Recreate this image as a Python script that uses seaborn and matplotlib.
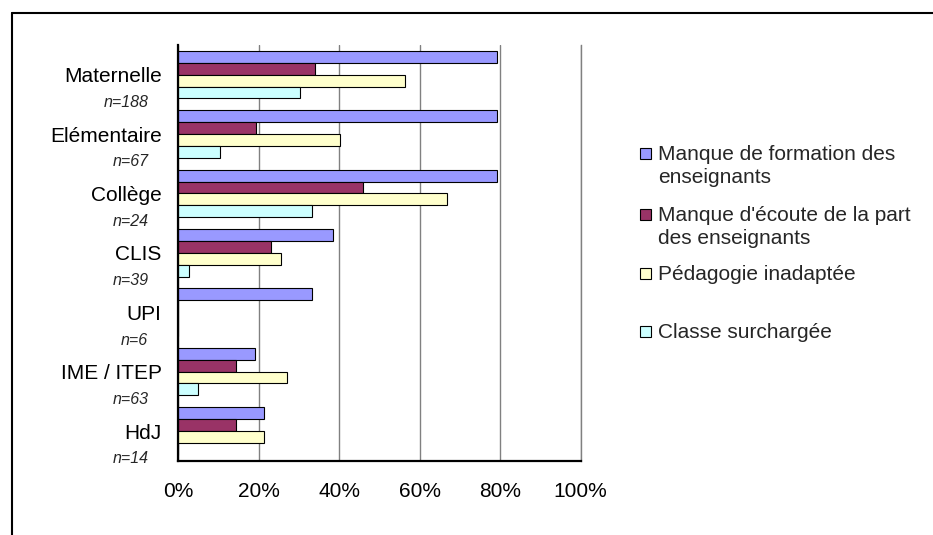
import pandas as pd
import seaborn as sns
import matplotlib.pyplot as plt
from matplotlib.patches import Rectangle
from matplotlib.lines import Line2D

# Données (pourcentages par type de scolarisation)
categories = ["Maternelle", "Elémentaire", "Collège", "CLIS", "UPI", "IME / ITEP", "HdJ"]
effectifs = [188, 67, 24, 39, 6, 63, 14]
series = ["Manque de formation des\nenseignants",
          "Manque d'écoute de la part\ndes enseignants",
          "Pédagogie inadaptée",
          "Classe surchargée"]
formation = [79.3, 79.1, 79.2, 38.5, 33.3, 19.0, 21.4]
ecoute = [34.0, 19.4, 45.8, 23.1, 0.0, 14.3, 14.3]
pedagogie = [56.4, 40.3, 66.7, 25.6, 0.0, 27.0, 21.4]
surcharge = [30.3, 10.4, 33.3, 2.6, 0.0, 4.8, 0.0]
colors = ["#9999FF", "#993366", "#FFFFCC", "#CCFFFF"]
xticks = [0, 20, 40, 60, 80, 100]

rows = []
for name, vals in zip(series, [formation, ecoute, pedagogie, surcharge]):
    for cat, v in zip(categories, vals):
        rows.append({"categorie": cat, "motif": name, "pct": v})
df = pd.DataFrame(rows)

sns.set_theme(style="white")
plt.rcParams["font.family"] = ["Liberation Sans", "DejaVu Sans"]

W, H = 933, 535
fig = plt.figure(figsize=(W / 100, H / 100), dpi=100)
ax = fig.add_axes([178.3 / W, 1 - 460.7 / H, (580.7 - 178.3) / W, (460.7 - 45) / H])

sns.barplot(data=df, y="categorie", x="pct", hue="motif", order=categories,
            hue_order=series, palette=colors, saturation=1, orient="h", width=0.8,
            edgecolor="black", linewidth=0.8, legend=False, ax=ax)

ax.set_xlim(0, 100)
ax.set_xticks(xticks)
ax.set_xticklabels([f"{t}%" for t in xticks], fontsize=15)
ax.set_yticks(range(len(categories)))
ax.set_yticklabels(categories, fontsize=15)
ax.set_xlabel("")
ax.set_ylabel("")
ax.tick_params(axis="x", length=0, pad=15, colors="black")
ax.tick_params(axis="y", length=0, pad=12, colors="black")
ax.xaxis.grid(True, color="#808080", linewidth=1)
ax.yaxis.grid(False)
ax.set_axisbelow(True)
for s in ["left", "bottom"]:
    ax.spines[s].set_color("black")
    ax.spines[s].set_linewidth(1.6)
ax.spines["right"].set_color("#808080")
ax.spines["right"].set_linewidth(1)
ax.spines["top"].set_visible(False)

# effectifs sous chaque catégorie
for i, n in enumerate(effectifs):
    ax.annotate(f"n={n}", xy=(0, i), xycoords=ax.get_yaxis_transform(),
                xytext=(-21.6, -20), textcoords="offset points",
                ha="right", va="center", fontsize=11.5, style="italic")

# légende à la manière d'Excel
leg_y = [153, 214, 273, 331]
for name, col, yc in zip(series, colors, leg_y):
    fig.add_artist(Rectangle((640 / W, 1 - (yc + 5.5) / H), 11 / W, 11 / H,
                             facecolor=col, edgecolor="black", linewidth=0.8,
                             transform=fig.transFigure))
    fig.text(658 / W, 1 - (yc - 8) / H, name, fontsize=15, va="top",
             ha="left", linespacing=1.25)

# cadre
fig.add_artist(Line2D([11.7 / W, 1], [1 - 12.7 / H] * 2, color="black", lw=1.5,
                      transform=fig.transFigure))
fig.add_artist(Line2D([11.7 / W] * 2, [0, 1 - 12.7 / H], color="black", lw=1.5,
                      transform=fig.transFigure))

fig.savefig("out.png", dpi=100)
plt.close(fig)
